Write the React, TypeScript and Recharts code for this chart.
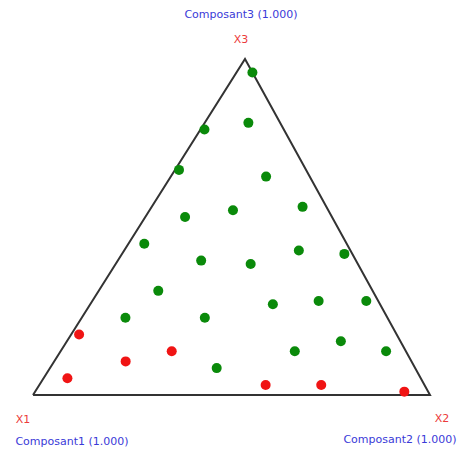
import { ScatterChart, Scatter, XAxis, YAxis, ReferenceDot } from "recharts";

// mixture compositions [Composant1, Composant2, Composant3]
type Mix = [number, number, number];

const greenMix: Mix[] = [
  [0.0, 0.04, 0.96],
  [0.2, 0.01, 0.79],
  [0.08, 0.11, 0.81],
  [0.32, 0.01, 0.67],
  [0.11, 0.24, 0.65],
  [0.37, 0.1, 0.53],
  [0.24, 0.21, 0.55],
  [0.06, 0.38, 0.56],
  [0.51, 0.04, 0.45],
  [0.39, 0.21, 0.4],
  [0.27, 0.34, 0.39],
  [0.13, 0.44, 0.43],
  [0.02, 0.56, 0.42],
  [0.54, 0.15, 0.31],
  [0.27, 0.46, 0.27],
  [0.15, 0.57, 0.28],
  [0.03, 0.69, 0.28],
  [0.66, 0.11, 0.23],
  [0.46, 0.31, 0.23],
  [0.28, 0.59, 0.13],
  [0.15, 0.69, 0.16],
  [0.05, 0.82, 0.13],
  [0.5, 0.42, 0.08],
];

const redMix: Mix[] = [
  [0.8, 0.02, 0.18],
  [0.72, 0.18, 0.1],
  [0.59, 0.28, 0.13],
  [0.89, 0.06, 0.05],
  [0.4, 0.57, 0.03],
  [0.26, 0.71, 0.03],
  [0.06, 0.93, 0.01],
];

const vertexMix: Mix[] = [
  [1, 0, 0],
  [0, 1, 0],
  [0, 0, 1],
];
const vertexNames = ["X1", "X2", "X3"];
const componentNames = ["Composant1 (1.000)", "Composant2 (1.000)", "Composant3 (1.000)"];

// horizontal position of the X3 apex along the base (the triangle is drawn slightly skewed)
const APEX_X = 0.534;

const toXY = (m: Mix) => ({ x: m[1] + m[2] * APEX_X, y: m[2] });

const greenPts = greenMix.map(toXY);
const redPts = redMix.map(toXY);
const vertices = vertexMix.map(toXY);
const frame = [...vertices.slice(0, 2), vertices[2], vertices[0]];

const BLUE = "#3a3ad8";
const RED_TXT = "#ec3b3b";
const FONT = "'DejaVu Sans', Verdana, sans-serif";

// label offsets relative to each vertex: [name dx, name dy, component dx, component dy]
const labelPos = [
  { nx: -10, ny: 28, cx: 39, cy: 50 },
  { nx: 12, ny: 27, cx: -30, cy: 48 },
  { nx: -4, ny: -16, cx: -4, cy: -41 },
];

const dot = (fill: string) => (p: any) => (
  <circle cx={p.cx} cy={p.cy} r={5} fill={fill} />
);

export default function App() {
  return (
    <div style={{ position: "absolute", left: 0, top: 0, background: "#fff" }}>
      <ScatterChart
        width={460}
        height={451}
        margin={{ top: 59, right: 30, bottom: 56, left: 33 }}
      >
        <XAxis type="number" dataKey="x" domain={[0, 1]} hide />
        <YAxis type="number" dataKey="y" domain={[0, 1]} hide />
        <Scatter
          data={frame}
          line={{ stroke: "#333", strokeWidth: 2 }}
          lineType="joint"
          shape={() => <g />}
          isAnimationActive={false}
        />
        <Scatter data={greenPts} shape={dot("#0a8a0a")} isAnimationActive={false} />
        <Scatter data={redPts} shape={dot("#f01414")} isAnimationActive={false} />
        {vertices.map((v, i) => (
          <ReferenceDot
            key={i}
            x={v.x}
            y={v.y}
            r={0}
            ifOverflow="visible"
            label={{
              content: (props: any) => {
                const vb = props.viewBox || {};
                const x = vb.x ?? 0;
                const y = vb.y ?? 0;
                const lp = labelPos[i];
                return (
                  <g style={{ fontFamily: FONT, fontSize: 11 }}>
                    <text x={x + lp.nx} y={y + lp.ny} fill={RED_TXT} textAnchor="middle">
                      {vertexNames[i]}
                    </text>
                    <text x={x + lp.cx} y={y + lp.cy} fill={BLUE} textAnchor="middle">
                      {componentNames[i]}
                    </text>
                  </g>
                );
              },
            }}
          />
        ))}
      </ScatterChart>
    </div>
  );
}
